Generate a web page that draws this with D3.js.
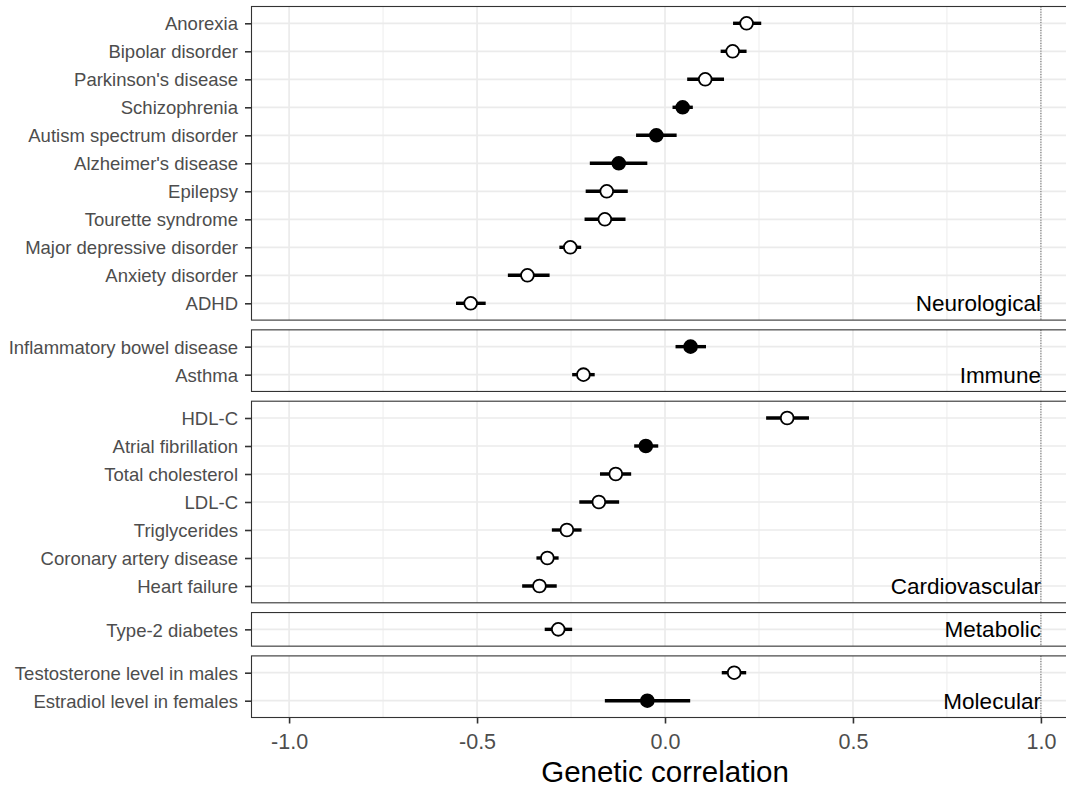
<!DOCTYPE html>
<html>
<head>
<meta charset="utf-8">
<script src="https://cdn.jsdelivr.net/npm/d3@7"></script>
<style>
  html, body { margin: 0; padding: 0; background: #fff; }
  svg { display: block; font-family: "Liberation Sans", Arial, Helvetica, sans-serif; }
</style>
</head>
<body>
<svg id="chart" width="1066" height="790"></svg>
<script>
// ---- Data ----
const groups = ["Neurological", "Immune", "Cardiovascular", "Metabolic", "Molecular"];

const traits = [
  "Anorexia", "Bipolar disorder", "Parkinson's disease", "Schizophrenia",
  "Autism spectrum disorder", "Alzheimer's disease", "Epilepsy", "Tourette syndrome",
  "Major depressive disorder", "Anxiety disorder", "ADHD",
  "Inflammatory bowel disease", "Asthma",
  "HDL-C", "Atrial fibrillation", "Total cholesterol", "LDL-C", "Triglycerides",
  "Coronary artery disease", "Heart failure",
  "Type-2 diabetes",
  "Testosterone level in males", "Estradiol level in females"
];

const traitGroup = [
  "Neurological", "Neurological", "Neurological", "Neurological",
  "Neurological", "Neurological", "Neurological", "Neurological",
  "Neurological", "Neurological", "Neurological",
  "Immune", "Immune",
  "Cardiovascular", "Cardiovascular", "Cardiovascular", "Cardiovascular", "Cardiovascular",
  "Cardiovascular", "Cardiovascular",
  "Metabolic",
  "Molecular", "Molecular"
];

const rg = [
  0.217, 0.180, 0.107, 0.047, -0.023, -0.123, -0.155, -0.160, -0.252, -0.366, -0.517,
  0.068, -0.217,
  0.325, -0.051, -0.131, -0.176, -0.261, -0.313, -0.334,
  -0.284,
  0.184, -0.047
];

const ciLow = [
  0.181, 0.148, 0.059, 0.020, -0.077, -0.200, -0.211, -0.214, -0.281, -0.418, -0.556,
  0.028, -0.247,
  0.269, -0.082, -0.173, -0.228, -0.301, -0.342, -0.380,
  -0.320,
  0.151, -0.160
];

const ciHigh = [
  0.256, 0.217, 0.157, 0.074, 0.031, -0.047, -0.099, -0.105, -0.223, -0.307, -0.477,
  0.109, -0.187,
  0.383, -0.018, -0.090, -0.122, -0.222, -0.283, -0.288,
  -0.247,
  0.216, 0.067
];

// filled = significant
const significant = [
  false, false, false, true, true, true, false, false, false, false, false,
  true, false,
  false, true, false, false, false, false, false,
  false,
  false, true
];

const xMajorTicks = [-1.0, -0.5, 0.0, 0.5, 1.0];
const xMinorTicks = [-0.75, -0.25, 0.25, 0.75];
const xTitle = "Genetic correlation";
const refLine = 1.0;

// ---- Layout ----
const svg = d3.select("#chart");
const plotLeft = 251.5, plotRight = 1078.5;
const plotTop = 6.5, plotBottom = 717.5, panelGap = 9.75;
const fontFam = '"Liberation Sans", Arial, Helvetica, sans-serif';

const x = d3.scaleLinear().domain([-1.1, 1.1]).range([plotLeft, plotRight]);

const rows = traits.map((t, i) => ({
  trait: t, group: traitGroup[i], rg: rg[i], lo: ciLow[i], hi: ciHigh[i], sig: significant[i]
}));

const counts = groups.map(g => rows.filter(r => r.group === g).length);
const totalUnits = d3.sum(counts, n => n + 0.2);
const unit = (plotBottom - plotTop - panelGap * (groups.length - 1)) / totalUnits;

let yCursor = plotTop;
groups.forEach((g, gi) => {
  const data = rows.filter(r => r.group === g);
  const h = (data.length + 0.2) * unit;
  const y0 = yCursor, y1 = yCursor + h;
  yCursor = y1 + panelGap;

  const y = d3.scalePoint().domain(data.map(d => d.trait)).range([y0, y1]).padding(0.6);

  const pg = svg.append("g");

  pg.append("rect").attr("x", plotLeft).attr("y", y0).attr("width", plotRight - plotLeft).attr("height", h)
    .attr("fill", "#fff");

  pg.selectAll(".gminor").data(xMinorTicks).enter().append("line")
    .attr("x1", d => x(d)).attr("x2", d => x(d)).attr("y1", y0).attr("y2", y1)
    .attr("stroke", "#ebebeb").attr("stroke-width", 0.9);
  pg.selectAll(".gmajor").data(xMajorTicks).enter().append("line")
    .attr("x1", d => x(d)).attr("x2", d => x(d)).attr("y1", y0).attr("y2", y1)
    .attr("stroke", "#ebebeb").attr("stroke-width", 1.7);
  pg.selectAll(".hgrid").data(data).enter().append("line")
    .attr("x1", plotLeft).attr("x2", plotRight).attr("y1", d => y(d.trait)).attr("y2", d => y(d.trait))
    .attr("stroke", "#ebebeb").attr("stroke-width", 1.7);

  pg.append("line").attr("x1", x(refLine)).attr("x2", x(refLine)).attr("y1", y0).attr("y2", y1)
    .attr("stroke", "#333").attr("stroke-width", 0.8).attr("stroke-dasharray", "1,1.6");

  pg.append("text")
    .attr("x", x(refLine)).attr("y", y(data[data.length - 1].trait))
    .attr("dy", "0.36em").attr("text-anchor", "end")
    .attr("font-size", 22.5).attr("fill", "#000").attr("font-family", fontFam)
    .text(g);

  pg.selectAll(".err").data(data).enter().append("line")
    .attr("x1", d => x(d.lo)).attr("x2", d => x(d.hi))
    .attr("y1", d => y(d.trait)).attr("y2", d => y(d.trait))
    .attr("stroke", "#000").attr("stroke-width", 3.4);

  pg.selectAll(".pt").data(data).enter().append("circle")
    .attr("cx", d => x(d.rg)).attr("cy", d => y(d.trait)).attr("r", 6.4)
    .attr("fill", d => d.sig ? "#000" : "#fff")
    .attr("stroke", "#000").attr("stroke-width", 1.8);

  pg.append("rect").attr("x", plotLeft).attr("y", y0).attr("width", plotRight - plotLeft).attr("height", h)
    .attr("fill", "none").attr("stroke", "#333").attr("stroke-width", 1.1);

  const ya = pg.append("g").attr("transform", `translate(${plotLeft},0)`)
    .call(d3.axisLeft(y).tickSize(6.5).tickPadding(7));
  ya.select(".domain").remove();
  ya.selectAll(".tick line").attr("stroke", "#333").attr("stroke-width", 1.6);
  ya.selectAll(".tick text").attr("fill", "#4d4d4d").attr("font-size", 18.5)
    .attr("font-family", fontFam).attr("dy", "0.36em");

  if (gi === groups.length - 1) {
    const xa = svg.append("g").attr("transform", `translate(0,${y1})`)
      .call(d3.axisBottom(x).tickValues(xMajorTicks).tickFormat(d => d.toFixed(1))
        .tickSize(6).tickPadding(10.5));
    xa.select(".domain").remove();
    xa.selectAll(".tick line").attr("stroke", "#333").attr("stroke-width", 1.6);
    xa.selectAll(".tick text").attr("fill", "#4d4d4d").attr("font-size", 21.5)
      .attr("font-family", fontFam);
  }
});

svg.append("text")
  .attr("x", x(0)).attr("y", 782)
  .attr("text-anchor", "middle").attr("font-size", 29.5).attr("fill", "#000")
  .attr("font-family", fontFam)
  .text(xTitle);
</script>
</body>
</html>
